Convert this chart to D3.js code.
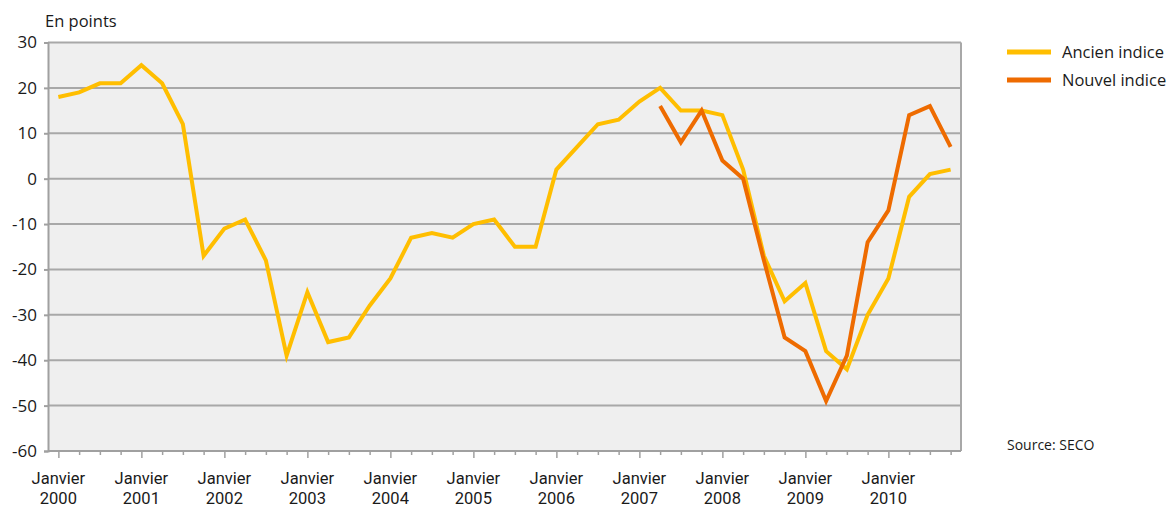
<!DOCTYPE html>
<html><head><meta charset="utf-8">
<script src="https://cdn.jsdelivr.net/npm/d3@7"></script>
<style>
html,body{margin:0;padding:0;background:#fff;}
text{font-family:"Open Sans","Noto Sans",sans-serif;fill:#1a1a1a;}
text.xl{font-family:Roboto,"Liberation Sans",sans-serif;}
</style></head>
<body>
<svg id="chart" width="1172" height="508"></svg>
<script>
const years = ["2000","2001","2002","2003","2004","2005","2006","2007","2008","2009","2010"];
const yTicks = [30,20,10,0,-10,-20,-30,-40,-50,-60];
const ancien = [18,19,21,21,25,21,12,-17,-11,-9,-18,-39,-25,-36,-35,-28,-22,-13,-12,-13,-10,-9,-15,-15,2,7,12,13,17,20,15,15,14,2,-17,-27,-23,-38,-42,-30,-22,-4,1,2];
const nouvelStart = 29;
const nouvel = [16,8,15,4,0,-18,-35,-38,-49,-39,-14,-7,14,16,7];
const seriesNames = ["Ancien indice","Nouvel indice"];
const colors = ["#FFBE00","#EE6B00"];

const svg = d3.select("#chart");
const L=48, R=961, T=42.5, B=451;
const n = ancien.length;
const x = d3.scaleLinear().domain([-0.5, n-0.5]).range([L,R]);
const y = d3.scaleLinear().domain([-60,30]).range([B,T]);

svg.append("rect").attr("x",L).attr("y",T).attr("width",R-L).attr("height",B-T).attr("fill","#EFEFEF");

// grid
svg.append("g").selectAll("line").data(yTicks.filter(d=>d>-60)).join("line")
  .attr("x1",L).attr("x2",R).attr("y1",d=>y(d)).attr("y2",d=>y(d))
  .attr("stroke","#A8A8A8").attr("stroke-width",2);

// right border
svg.append("line").attr("x1",R).attr("x2",R).attr("y1",T).attr("y2",B).attr("stroke","#A8A8A8").attr("stroke-width",2);

// y axis
const yAxis = d3.axisLeft(y).tickValues(yTicks).tickSize(4).tickPadding(6).tickFormat(d=>String(d));
const gy = svg.append("g").attr("transform",`translate(${L},0)`).call(yAxis);
gy.select(".domain").attr("stroke","#A0A0A0").attr("stroke-width",2);
gy.selectAll(".tick line").attr("stroke","#A0A0A0").attr("stroke-width",2);
gy.selectAll(".tick text").attr("font-size","17px").attr("fill","#1a1a1a").attr("font-family",null).attr("dx","-1");

// x axis
const idx = d3.range(n);
const xAxis = d3.axisBottom(x).tickValues(idx).tickSize(5).tickFormat("");
const gx = svg.append("g").attr("transform",`translate(0,${B})`).call(xAxis);
gx.select(".domain").attr("d",`M${L},0H${R}`).attr("stroke","#A0A0A0").attr("stroke-width",2);
gx.selectAll(".tick line").attr("stroke","#A0A0A0").attr("stroke-width",1.5)
  .attr("y2",d=>d%4===0?7:4);

const labs = svg.append("g");
labs.selectAll("text.m").data(years).join("text").attr("class","m xl")
  .attr("x",(d,i)=>x(i*4)).attr("y",484).attr("text-anchor","middle").attr("font-size","16.5px").text("Janvier");
labs.selectAll("text.yr").data(years).join("text").attr("class","yr xl")
  .attr("x",(d,i)=>x(i*4)).attr("y",504).attr("text-anchor","middle").attr("font-size","16.5px").text(d=>d);

// lines
const line = d3.line().x(d=>x(d[0])).y(d=>y(d[1])).curve(d3.curveLinear);
svg.append("path").datum(ancien.map((v,i)=>[i,v])).attr("d",line)
  .attr("fill","none").attr("stroke",colors[0]).attr("stroke-width",4).attr("stroke-linejoin","miter");
svg.append("path").datum(nouvel.map((v,i)=>[i+nouvelStart,v])).attr("d",line)
  .attr("fill","none").attr("stroke",colors[1]).attr("stroke-width",4).attr("stroke-linejoin","miter");

// title
svg.append("text").attr("x",45).attr("y",27).attr("font-size","16.5px").text("En points");

// legend
const lg = svg.append("g").selectAll("g").data(seriesNames).join("g")
  .attr("transform",(d,i)=>`translate(1007,${52+i*28})`);
lg.append("line").attr("x1",0).attr("x2",44).attr("y1",0).attr("y2",0)
  .attr("stroke",(d,i)=>colors[i]).attr("stroke-width",5);
lg.append("text").attr("x",55).attr("y",6).attr("font-size","16.5px").text(d=>d);

svg.append("text").attr("x",1007).attr("y",450).attr("font-size","14px").text("Source: SECO");
</script>
</body></html>
